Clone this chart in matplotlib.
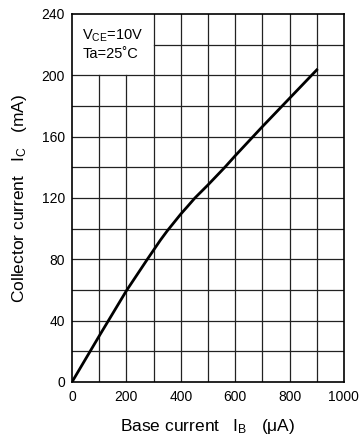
import matplotlib
matplotlib.use("Agg")
import matplotlib.pyplot as plt

plt.rcParams['font.family'] = ['Liberation Sans', 'DejaVu Sans']
plt.rcParams['mathtext.fontset'] = 'custom'
plt.rcParams['mathtext.rm'] = 'Liberation Sans'
plt.rcParams['mathtext.it'] = 'Liberation Sans'

base_current = [0, 100, 200, 277, 300, 325, 350, 375, 400, 425, 452, 500, 562, 600, 700, 800, 900]
collector_current = [0, 30, 59.5, 80, 86, 92.5, 98.5, 104, 109.5, 114.5, 120, 128.5, 140, 147.5, 166.5, 185, 203.5]
x_ticks = [0, 200, 400, 600, 800, 1000]
y_ticks = [0, 40, 80, 120, 160, 200, 240]

fig = plt.figure(figsize=(3.62, 4.37), dpi=100)
ax = fig.add_axes([0.199, 0.126, 0.751, 0.842])
ax.set_xlim(0, 1000)
ax.set_ylim(0, 240)

# grid
for gx in range(100, 1000, 100):
    ymax = 200 if gx < 300 else 240
    ax.plot([gx, gx], [0, ymax], color='#222222', lw=0.9, zorder=1)
for gy in range(20, 240, 20):
    xmin = 300 if gy > 200 else 0
    ax.plot([xmin, 1000], [gy, gy], color='#222222', lw=0.9, zorder=1)

ax.plot(base_current, collector_current, color='black', lw=2, zorder=3,
        solid_joinstyle='round')

ax.text(38, 225.5, r'V$_{\mathrm{CE}}$=10V', fontsize=10.5, va='center', ha='left')
ax.text(38, 214, 'Ta=25˚C', fontsize=10.5, va='center', ha='left')

ax.set_xticks(x_ticks)
ax.set_yticks(y_ticks)
ax.tick_params(length=0, labelsize=10)
ax.tick_params(axis='x', pad=6)
ax.tick_params(axis='y', pad=5)
for s in ax.spines.values():
    s.set_linewidth(1.2)
ax.set_xlabel(r'Base current   I$_{\mathrm{B}}$   ($\mathrm{\mu}$A)', fontsize=12.5, labelpad=9)
ax.set_ylabel(r'Collector current   I$_{\mathrm{C}}$   (mA)', fontsize=12.5, labelpad=9)

fig.savefig('out.png', dpi=100)
